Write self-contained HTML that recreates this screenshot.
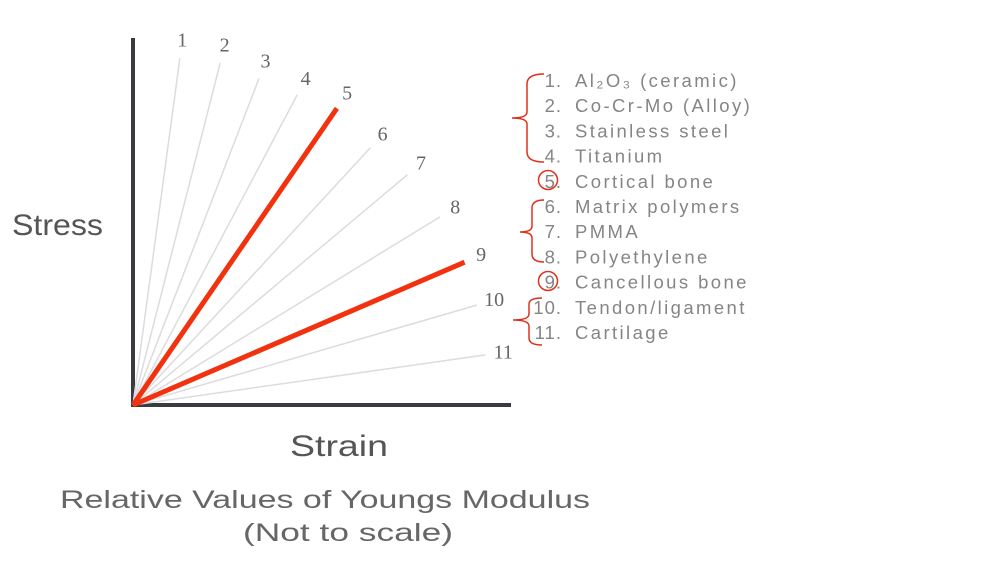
<!DOCTYPE html>
<html><head><meta charset="utf-8"><style>
html,body{margin:0;padding:0;background:#fff;width:992px;height:564px;overflow:hidden}
svg{display:block}
text{font-family:"Liberation Sans",sans-serif}
.num{font-family:"Liberation Serif",serif;fill:#666;font-size:20px}
.leg{fill:#858585;font-size:18.5px;letter-spacing:2.4px}
.legn{fill:#858585;font-size:18.5px;letter-spacing:1px}
</style></head><body>
<svg id="chart" width="992" height="564">
<line x1="133" y1="38" x2="133" y2="407" stroke="#3a3a40" stroke-width="4"/>
<line x1="131" y1="405" x2="511" y2="405" stroke="#3a3a40" stroke-width="4"/>
<g id="lines"></g>
<text x="12" y="235" font-size="30" fill="#555" textLength="91" lengthAdjust="spacingAndGlyphs">Stress</text>
<text x="290" y="456" font-size="30" fill="#555" textLength="98" lengthAdjust="spacingAndGlyphs">Strain</text>
<text x="60" y="508" font-size="25" fill="#666" textLength="530" lengthAdjust="spacingAndGlyphs">Relative Values of Youngs Modulus</text>
<text x="243" y="541" font-size="25" fill="#666" textLength="210" lengthAdjust="spacingAndGlyphs">(Not to scale)</text>
<g id="legend"></g>
<g fill="none" stroke="#e0301a" stroke-width="1.5">
<path d="M544,74 Q527,74 527,84 L527,112 Q527,118 512,118 Q527,118 527,124 L527,152 Q527,162 544,162"/>
<path d="M544,200 Q532,200 532,208 L532,226 Q532,232 520,232 Q532,232 532,238 L532,254 Q532,262 544,262"/>
<path d="M542,298 Q529,298 529,304 L529,314 Q529,320 513,320 Q529,320 529,326 L529,338 Q529,345 542,345"/>
<circle cx="548" cy="180" r="9.5"/>
<circle cx="548" cy="281" r="9.5"/>
</g>
</svg>
<script>
const materials=["Al\u2082O\u2083 (ceramic)","Co-Cr-Mo (Alloy)","Stainless steel","Titanium","Cortical bone","Matrix polymers","PMMA","Polyethylene","Cancellous bone","Tendon/ligament","Cartilage"];
const angles=[82.3,75.7,68.9,62.1,55.5,47.3,40.0,31.5,23.3,16.2,8.1];
const lengths=[350,353,350,351,360,350,358,360,361,358,356];
const highlighted=[false,false,false,false,true,false,false,false,true,false,false];
const NS="http://www.w3.org/2000/svg";
const ox=133,oy=405;
function px(a,l){return ox+l*Math.cos(a*Math.PI/180);}
function py(a,l){return oy-l*Math.sin(a*Math.PI/180);}
const lg=document.getElementById('lines');
const order=[...angles.keys()].sort((a,b)=>highlighted[a]-highlighted[b]);
order.forEach(i=>{
  const l=document.createElementNS(NS,'line');
  l.setAttribute('x1',ox);l.setAttribute('y1',oy);
  l.setAttribute('x2',px(angles[i],lengths[i]));l.setAttribute('y2',py(angles[i],lengths[i]));
  l.setAttribute('stroke',highlighted[i]?'#f2320f':'#dcdce0');
  l.setAttribute('stroke-width',highlighted[i]?5:1.5);
  
  
  lg.appendChild(l);
  const t=document.createElementNS(NS,'text');
  t.setAttribute('x',px(angles[i],lengths[i]+18));
  t.setAttribute('y',py(angles[i],lengths[i]+18)+6);
  t.setAttribute('class','num');t.setAttribute('text-anchor','middle');
  t.textContent=String(i+1);
  
  
  lg.appendChild(t);
});
const leg=document.getElementById('legend');
materials.forEach((m,i)=>{
  const y=87+i*25.2;
  const n=document.createElementNS(NS,'text');
  n.setAttribute('x',562);n.setAttribute('y',y);n.setAttribute('text-anchor','end');
  n.setAttribute('class','legn');n.textContent=(i+1)+'.';
  
  
  leg.appendChild(n);
  const t=document.createElementNS(NS,'text');
  t.setAttribute('x',575);t.setAttribute('y',y);t.setAttribute('class','leg');
  t.textContent=m;
  
  
  leg.appendChild(t);
});
</script>
</body></html>
